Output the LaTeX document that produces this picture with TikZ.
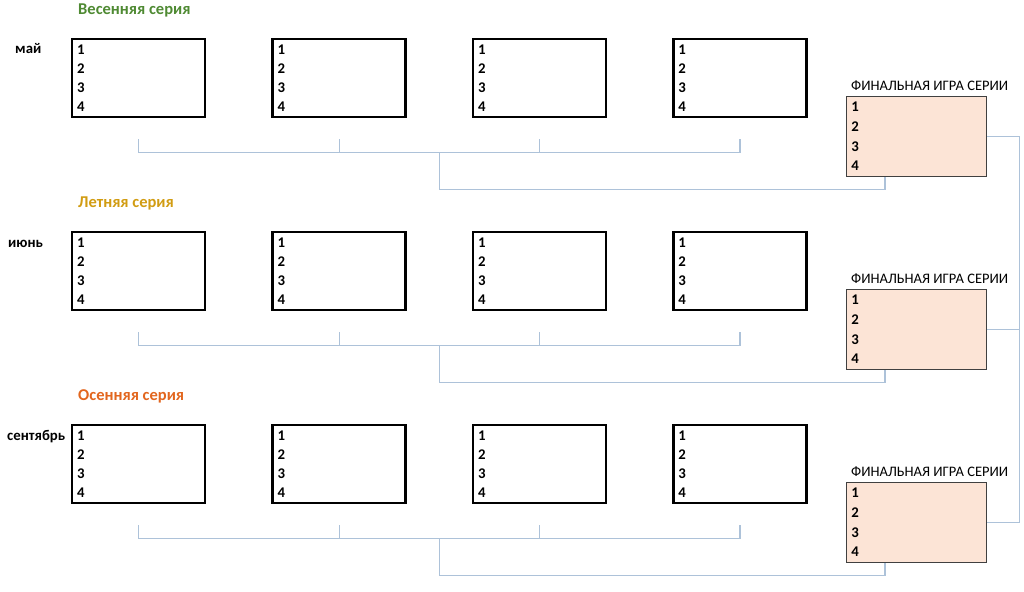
\documentclass[tikz,border=0pt]{standalone}
\usepackage{fontspec}
\setmainfont{Carlito}
\usepackage{tikz}
\usepackage{xcolor}
\usetikzlibrary{positioning, calc}
\definecolor{springgreen}{HTML}{4F8A33}
\definecolor{summergold}{HTML}{D19C12}
\definecolor{autumnorange}{HTML}{E2661E}
\definecolor{finalpeach}{HTML}{FCE4D6}
\definecolor{bracketblue}{HTML}{ADC2D9}

\begin{document}
\begin{tikzpicture}[x=1pt, y=-1pt, node distance=112.6pt and 65pt,
    game/.style={draw, rectangle, line width=2.4pt, minimum width=133pt, minimum height=78pt,
        inner xsep=5pt, text width=123pt, align=left, font=\bfseries\fontsize{14.8}{19.3}\selectfont},
    final/.style={draw=black!75, rectangle, line width=0.8pt, fill=finalpeach, minimum width=140pt,
        minimum height=80pt, inner xsep=5pt, text width=130pt, align=left,
        font=\bfseries\fontsize{14.8}{19.7}\selectfont},
    series/.style={font=\bfseries\fontsize{16.5}{18}\selectfont, inner sep=0pt, anchor=base west},
    month/.style={font=\bfseries\fontsize{14.8}{16}\selectfont, inner sep=0pt, anchor=base west},
    finlabel/.style={font=\fontsize{14.5}{16}\selectfont, inner sep=0pt, anchor=base west},
    bracket/.style={draw=bracketblue, line width=1.2pt}]
    \useasboundingbox (0,0) rectangle (1024,591);

    % Nodes
    \node[game, anchor=north west] (may1) at (71,38) {1\\2\\3\\4};
    \node[game, right=of may1] (may2) {1\\2\\3\\4};
    \node[game, right=of may2] (may3) {1\\2\\3\\4};
    \node[game, right=of may3] (may4) {1\\2\\3\\4};
    \node[game, below=of may1] (jun1) {1\\2\\3\\4};
    \node[game, right=of jun1] (jun2) {1\\2\\3\\4};
    \node[game, right=of jun2] (jun3) {1\\2\\3\\4};
    \node[game, right=of jun3] (jun4) {1\\2\\3\\4};
    \node[game, below=of jun1] (sep1) {1\\2\\3\\4};
    \node[game, right=of sep1] (sep2) {1\\2\\3\\4};
    \node[game, right=of sep2] (sep3) {1\\2\\3\\4};
    \node[game, right=of sep3] (sep4) {1\\2\\3\\4};
    \node[final, anchor=north west] (finMay) at (846,96) {1\\2\\3\\4};
    \node[final, below=112.2pt of finMay] (finJun) {1\\2\\3\\4};
    \node[final, below=112.2pt of finJun] (finSep) {1\\2\\3\\4};

    % Labels
    \node[series, text=springgreen] (titleMay) at ($(may1.north west)+(7,-23.5)$) {Весенняя серия};
    \node[series, text=summergold] (titleJun) at ($(jun1.north west)+(7,-23.5)$) {Летняя серия};
    \node[series, text=autumnorange] (titleSep) at ($(sep1.north west)+(7,-23.5)$) {Осенняя серия};
    \node[month] (lblMay) at ($(may1.north west)+(-56,16)$) {май};
    \node[month] (lblJun) at ($(jun1.north west)+(-63,16)$) {июнь};
    \node[month] (lblSep) at ($(sep1.north west)+(-64,16)$) {сентябрь};
    \node[finlabel] (finLblMay) at ($(finMay.north west)+(5,-5.5)$) {ФИНАЛЬНАЯ ИГРА СЕРИИ};
    \node[finlabel] (finLblJun) at ($(finJun.north west)+(5,-5.5)$) {ФИНАЛЬНАЯ ИГРА СЕРИИ};
    \node[finlabel] (finLblSep) at ($(finSep.north west)+(5,-5.5)$) {ФИНАЛЬНАЯ ИГРА СЕРИИ};

    % Edges
    \coordinate (tMay1) at ($(may1.south)+(0,21)$);
    \coordinate (tMay2) at ($(may2.south)+(0,21)$);
    \coordinate (tMay3) at ($(may3.south)+(0,21)$);
    \coordinate (tMay4) at ($(may4.south)+(0,21)$);
    \coordinate (jMay) at ($(tMay2)!0.5!(tMay3)+(0,13)$);
    \coordinate (fMay) at ($(finMay.south west)+(39,13)$);
    \draw[bracket] (tMay1) -- ++(0,13) -| (tMay4);
    \draw[bracket] (tMay2) -- (tMay2 |- jMay);
    \draw[bracket] (tMay3) -- (tMay3 |- jMay);
    \draw[bracket] (jMay) |- (fMay) -- (fMay |- finMay.south);

    \coordinate (tJun1) at ($(jun1.south)+(0,21)$);
    \coordinate (tJun2) at ($(jun2.south)+(0,21)$);
    \coordinate (tJun3) at ($(jun3.south)+(0,21)$);
    \coordinate (tJun4) at ($(jun4.south)+(0,21)$);
    \coordinate (jJun) at ($(tJun2)!0.5!(tJun3)+(0,13)$);
    \coordinate (fJun) at ($(finJun.south west)+(39,13)$);
    \draw[bracket] (tJun1) -- ++(0,13) -| (tJun4);
    \draw[bracket] (tJun2) -- (tJun2 |- jJun);
    \draw[bracket] (tJun3) -- (tJun3 |- jJun);
    \draw[bracket] (jJun) |- (fJun) -- (fJun |- finJun.south);

    \coordinate (tSep1) at ($(sep1.south)+(0,21)$);
    \coordinate (tSep2) at ($(sep2.south)+(0,21)$);
    \coordinate (tSep3) at ($(sep3.south)+(0,21)$);
    \coordinate (tSep4) at ($(sep4.south)+(0,21)$);
    \coordinate (jSep) at ($(tSep2)!0.5!(tSep3)+(0,13)$);
    \coordinate (fSep) at ($(finSep.south west)+(39,13)$);
    \draw[bracket] (tSep1) -- ++(0,13) -| (tSep4);
    \draw[bracket] (tSep2) -- (tSep2 |- jSep);
    \draw[bracket] (tSep3) -- (tSep3 |- jSep);
    \draw[bracket] (jSep) |- (fSep) -- (fSep |- finSep.south);

    \coordinate (rFin) at ($(finMay.east)+(33,0)$);
    \draw[bracket] (finMay.east) -- (rFin) |- (finSep.east);
    \draw[bracket] (finJun.east) -- (finJun.east -| rFin);
\end{tikzpicture}
\end{document}
